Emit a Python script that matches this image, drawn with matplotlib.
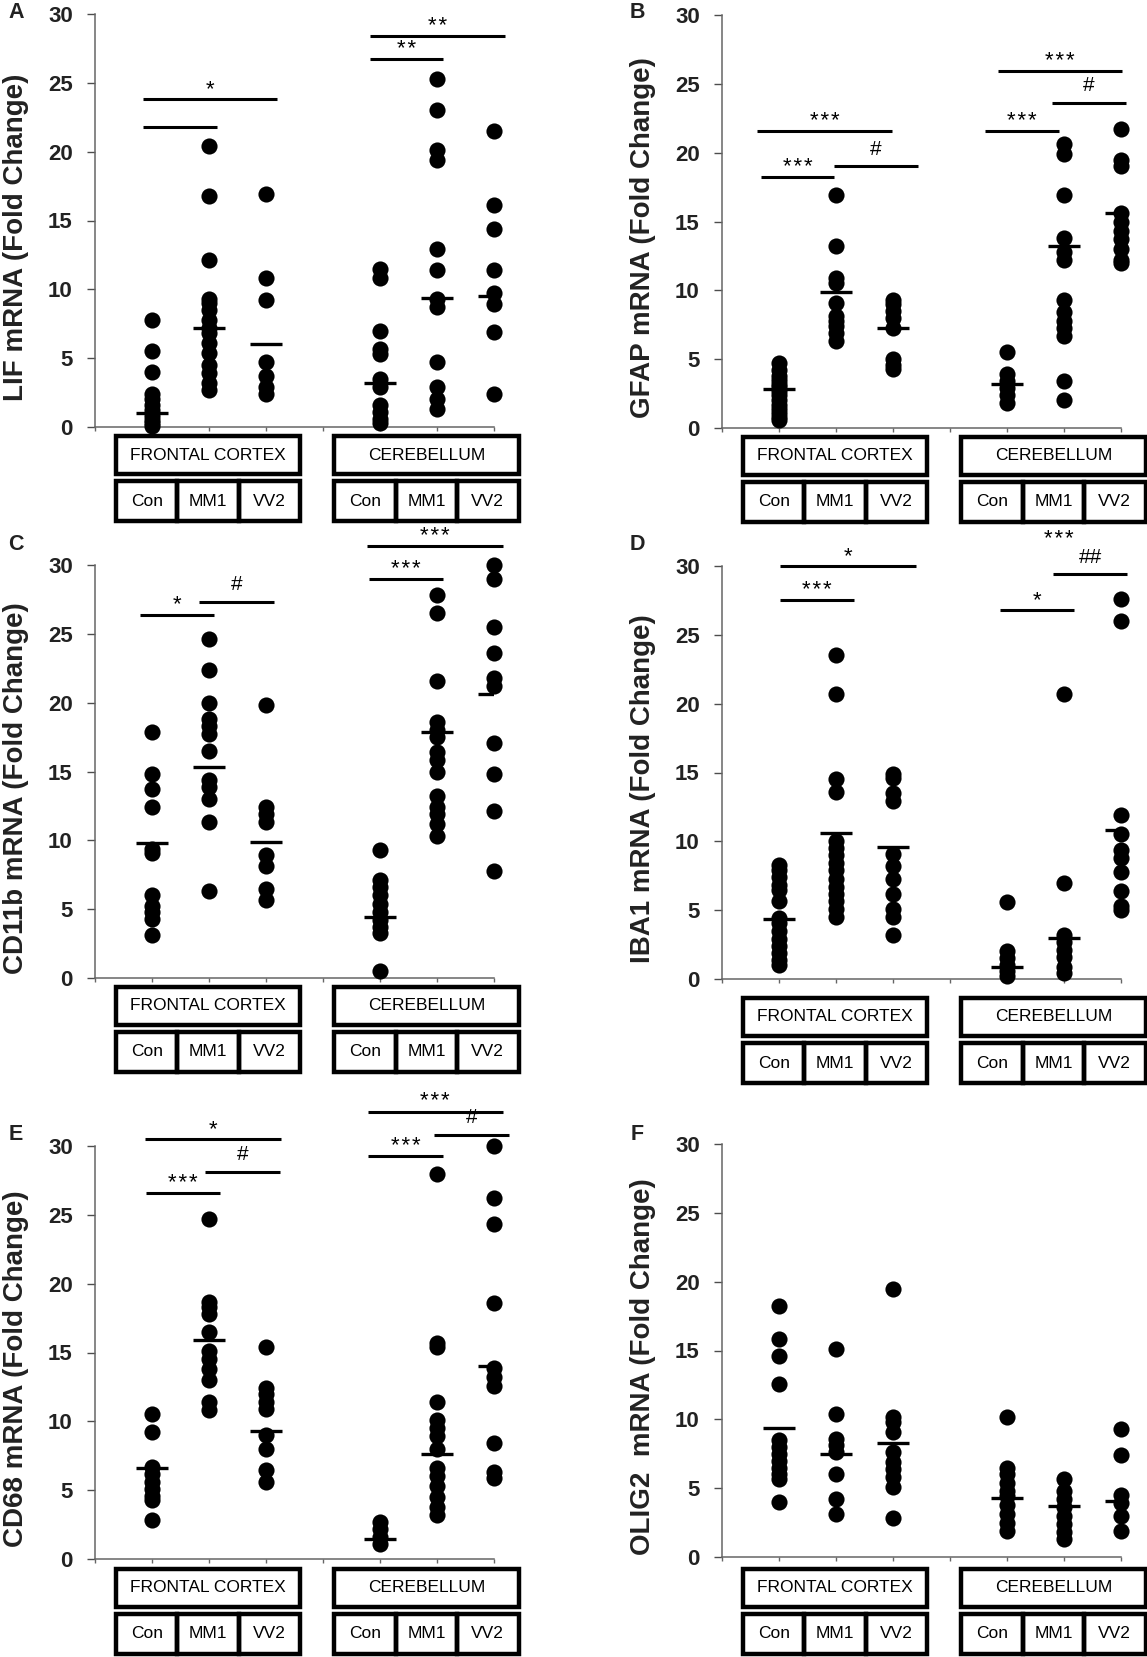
import numpy as np
import matplotlib
matplotlib.use("Agg")
import matplotlib.pyplot as plt
from matplotlib.patches import Rectangle

plt.rcParams['font.family'] = ['Liberation Sans', 'DejaVu Sans']

# x positions of the six groups (gap at 4 between regions)
group_x = [1, 2, 3, 5, 6, 7]
region_names = ["FRONTAL CORTEX", "CEREBELLUM"]
group_names = ["Con", "MM1", "VV2"]

# ---- A: LIF ----
lif = [
    [7.8, 5.5, 4.0, 2.4, 2.0, 1.6, 1.2, 0.8, 0.5, 0.3, 0.1],
    [20.4, 16.8, 12.1, 9.3, 9.0, 8.5, 7.8, 7.2, 6.8, 6.1, 5.4, 4.5, 3.9, 3.2, 2.7],
    [16.9, 10.8, 9.2, 4.7, 3.7, 2.9, 2.4],
    [11.5, 10.8, 7.0, 5.7, 5.3, 3.5, 2.9, 1.6, 1.1, 0.6, 0.3],
    [25.3, 23.0, 20.1, 19.4, 12.9, 11.4, 9.3, 8.7, 4.7, 2.9, 2.0, 1.3],
    [21.5, 16.1, 14.4, 11.4, 9.7, 8.9, 6.9, 2.4],
]
lif_means = [1.05, 7.2, 6.0, 3.2, 9.4, 9.5]
lif_sig = [(0.84, 2.14, 21.8, ""), (0.84, 3.2, 23.8, "*"),
           (4.82, 6.1, 26.7, "**"), (4.82, 7.2, 28.4, "**")]

# ---- B: GFAP ----
gfap = [
    [4.7, 4.2, 3.8, 3.5, 3.2, 3.0, 2.7, 2.4, 2.0, 1.7, 1.4, 1.1, 0.8, 0.6],
    [16.9, 13.2, 10.9, 10.5, 9.1, 8.1, 7.8, 7.4, 6.9, 6.3],
    [9.3, 9.0, 8.5, 8.0, 7.3, 5.0, 4.6, 4.3],
    [5.5, 3.9, 3.4, 2.9, 2.4, 1.8],
    [20.6, 19.9, 16.9, 13.8, 12.8, 12.2, 9.3, 8.4, 7.8, 7.3, 6.7, 3.4, 2.0],
    [21.7, 19.5, 19.0, 15.6, 15.0, 14.3, 13.7, 13.0, 12.2, 12.0],
]
gfap_means = [2.8, 9.9, 7.3, 3.2, 13.2, 15.6]
gfap_sig = [(0.61, 2.98, 21.6, "***"), (0.68, 1.97, 18.2, "***"),
            (1.97, 3.43, 19.0, "#"), (4.84, 7.02, 25.9, "***"),
            (5.79, 7.09, 23.6, "#"), (4.61, 5.92, 21.6, "***")]

# ---- C: CD11b ----
cd11b = [
    [17.9, 14.8, 13.7, 12.4, 9.4, 9.1, 6.0, 5.2, 4.8, 4.3, 3.1],
    [24.6, 22.4, 20.0, 18.8, 18.3, 17.7, 16.5, 14.4, 13.9, 13.0, 11.3, 6.3],
    [19.8, 12.4, 11.9, 11.3, 8.9, 8.1, 6.5, 5.7],
    [9.3, 7.1, 6.6, 6.0, 5.4, 4.8, 4.2, 3.7, 3.3, 0.5],
    [27.8, 26.5, 21.6, 18.6, 18.0, 17.5, 16.4, 15.8, 15.0, 13.2, 12.4, 11.9, 11.2, 10.3],
    [30.0, 29.0, 25.5, 23.6, 21.8, 21.2, 17.1, 14.8, 12.1, 7.8],
]
cd11b_means = [9.8, 15.3, 9.9, 4.4, 17.9, 20.6]
cd11b_sig = [(0.79, 2.09, 26.4, "*"), (1.82, 3.14, 27.3, "#"),
             (4.8, 6.1, 29.0, "***"), (4.78, 7.15, 31.4, "***")]

# ---- D: IBA1 ----
iba1 = [
    [8.3, 7.9, 7.4, 6.8, 6.5, 5.7, 4.4, 4.1, 3.5, 2.9, 2.4, 1.9, 1.4, 1.0],
    [23.5, 20.7, 14.5, 13.6, 10.0, 9.5, 9.0, 8.4, 7.9, 7.3, 6.7, 6.2, 5.7, 5.1, 4.5],
    [14.9, 14.6, 13.5, 12.9, 9.1, 8.2, 7.3, 6.2, 5.1, 4.5, 3.2],
    [5.6, 2.0, 1.5, 1.0, 0.6, 0.2],
    [20.7, 7.0, 3.2, 2.7, 2.1, 1.6, 0.9, 0.4],
    [27.6, 26.0, 11.9, 10.5, 9.4, 8.8, 7.8, 6.4, 5.3, 5.0],
]
iba1_means = [4.35, 10.6, 9.6, 0.9, 3.0, 10.8]
iba1_sig = [(1.02, 3.4, 30.0, "*"), (1.02, 2.32, 27.5, "***"),
            (4.87, 6.18, 26.8, "*"), (5.81, 7.11, 29.4, "##")]
iba1_extra = (5.91, 32.1, "***")

# ---- E: CD68 ----
cd68 = [
    [10.5, 9.25, 6.7, 6.2, 5.6, 5.1, 4.6, 4.3, 2.8],
    [24.7, 18.7, 18.3, 17.8, 16.5, 15.1, 14.5, 13.8, 13.0, 11.4, 10.8],
    [15.4, 12.4, 12.0, 11.4, 10.9, 9.0, 8.0, 6.5, 5.6],
    [2.7, 2.2, 1.6, 1.1],
    [28.0, 15.7, 15.4, 11.4, 10.1, 9.5, 8.9, 8.0, 6.6, 6.0, 5.3, 4.5, 3.8, 3.2],
    [30.0, 26.2, 24.3, 18.6, 13.9, 13.2, 12.6, 8.4, 6.3, 5.9],
]
cd68_means = [6.6, 15.9, 9.3, 1.45, 7.6, 14.0]
cd68_sig = [(0.88, 3.26, 30.5, "*"), (1.93, 3.25, 28.1, "#"),
            (0.89, 2.19, 26.6, "***"), (4.79, 7.15, 32.5, "***"),
            (5.95, 7.26, 30.8, "#"), (4.79, 6.1, 29.3, "***")]

# ---- F: OLIG2 ----
olig2 = [
    [18.2, 15.8, 14.6, 12.6, 8.5, 8.0, 7.5, 7.0, 6.5, 6.0, 5.7, 4.0],
    [15.1, 10.4, 8.6, 8.1, 7.6, 6.0, 4.2, 3.1],
    [19.5, 10.2, 9.8, 9.1, 7.6, 6.9, 6.4, 5.8, 5.1, 2.8],
    [10.2, 6.5, 6.0, 5.4, 4.8, 4.4, 3.75, 3.1, 2.5, 1.9],
    [5.7, 4.8, 4.2, 3.6, 3.0, 2.4, 1.8, 1.3],
    [9.3, 7.4, 4.5, 3.9, 3.0, 1.9],
]
olig2_means = [9.4, 7.5, 8.3, 4.3, 3.7, 4.1]
olig2_sig = []

W, H = 1147, 1657
fig = plt.figure(figsize=(W / 100, H / 100), dpi=100)

PX = 30 / 413.0   # data units per pixel (vertical)


def star_text(lab):
    # spread the stars a little, like the original
    return '\u200a'.join(lab) if '*' in lab else lab


def draw_panel(ax, groups, means, sig, ylabel, box_off):
    for x, vals in zip(group_x, groups):
        ax.scatter([x] * len(vals), vals, s=135, color='black', zorder=3,
                   clip_on=False, linewidths=0)
    for x, m in zip(group_x, means):
        ax.plot([x - 0.28, x + 0.28], [m, m], color='black', lw=2.4,
                solid_capstyle='butt', zorder=4)
    for x1, x2, y, lab in sig:
        ax.plot([x1, x2], [y, y], color='black', lw=2.2, clip_on=False,
                solid_capstyle='butt')
        if lab:
            if '#' in lab:
                ax.text((x1 + x2) / 2, y + 1.25, lab, ha='center',
                        va='center', fontsize=15, clip_on=False)
            else:
                ax.text((x1 + x2) / 2, y + 0.3, star_text(lab), ha='center',
                        va='baseline', fontsize=16, clip_on=False)

    ax.set_xlim(0, 7)
    ax.set_ylim(0, 30)
    ax.set_yticks(range(0, 31, 5))
    ax.set_xticks(range(0, 8))
    ax.set_xticklabels([])
    for lbl in ax.get_yticklabels():
        lbl.set_fontweight('bold')
        lbl.set_color('#222222')
    ax.tick_params(axis='y', labelsize=16, length=6, width=1, color='0.3',
                   pad=10)
    ax.tick_params(axis='x', length=3, width=1, color='0.4')
    for s in ['top', 'right']:
        ax.spines[s].set_visible(False)
    for s in ['left', 'bottom']:
        ax.spines[s].set_color('0.4')
        ax.spines[s].set_linewidth(1.1)
    ax.set_ylabel(ylabel, fontsize=20, fontweight='bold', color='#222222')
    ax.yaxis.set_label_coords(-0.165, 0.46)

    # region and group label boxes under the axis
    top1 = -box_off * PX
    bot1 = -(box_off + 38) * PX
    top2 = -(box_off + 45) * PX
    bot2 = -(box_off + 85) * PX
    for (x0, x1), name in zip([(0.37, 3.6), (4.2, 7.43)], region_names):
        ax.add_patch(Rectangle((x0, bot1), x1 - x0, top1 - bot1, fill=False,
                               lw=3.2, ec='black', clip_on=False))
        ax.text((x0 + x1) / 2, (top1 + bot1) / 2, name, ha='center',
                va='center', fontsize=12.5, clip_on=False)
        w = (x1 - x0) / 3
        for i, g in enumerate(group_names):
            ax.add_patch(Rectangle((x0 + i * w, bot2), w, top2 - bot2,
                                   fill=False, lw=3.2, ec='black',
                                   clip_on=False))
            ax.text(x0 + (i + 0.5) * w, (top2 + bot2) / 2, g, ha='center',
                    va='center', fontsize=12.5, clip_on=False)


panels = [
    ("A", lif, lif_means, lif_sig, "LIF mRNA (Fold Change)", 95, 427, 9),
    ("B", gfap, gfap_means, gfap_sig, "GFAP mRNA (Fold Change)", 722, 428, 9),
    ("C", cd11b, cd11b_means, cd11b_sig, "CD11b mRNA (Fold Change)", 95, 978, 9),
    ("D", iba1, iba1_means, iba1_sig, "IBA1 mRNA (Fold Change)", 722, 979, 19),
    ("E", cd68, cd68_means, cd68_sig, "CD68 mRNA (Fold Change)", 95, 1559, 10),
    ("F", olig2, olig2_means, olig2_sig, "OLIG2  mRNA (Fold Change)", 722, 1557, 12),
]
letter_pos = {"A": (16, 13), "B": (637, 13), "C": (16, 545),
              "D": (637, 545), "E": (16, 1135), "F": (637, 1135)}

for letter, data, means, sig, ylab, x0, y0, boff in panels:
    ax = fig.add_axes([x0 / W, 1 - y0 / H, 399 / W, 413 / H])
    draw_panel(ax, data, means, sig, ylab, boff)
    if letter == "D":
        ex, ey, el = iba1_extra
        ax.text(ex, ey - 0.6, star_text(el), ha='center', va='baseline',
                fontsize=16, clip_on=False)
    lx, ly = letter_pos[letter]
    fig.text(lx / W, 1 - ly / H, letter, fontsize=15.5, fontweight='bold',
             ha='center', va='center', color='#222222')

fig.savefig("out.png", dpi=100)
